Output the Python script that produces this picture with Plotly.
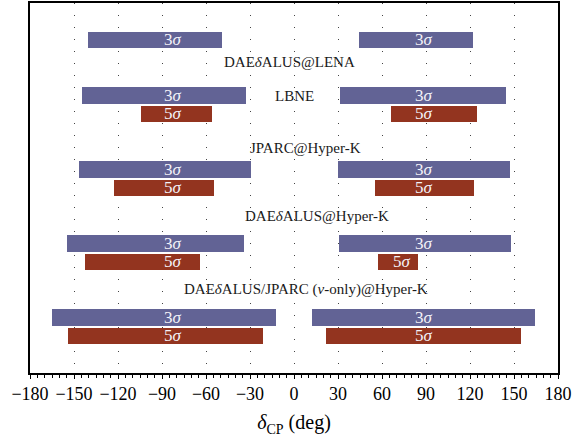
import plotly.graph_objs as go

# bar rows (y position), 3 sigma and 5 sigma intervals in deg
rows_3s = [18, 15, 11, 7, 3]
left_3s = [(-140.5, -49.0), (-144.5, -32.7), (-146.6, -29.3), (-154.8, -34.1), (-165.0, -12.3)]
right_3s = [(44.3, 122.0), (31.4, 144.5), (30.0, 147.3), (30.7, 148.0), (12.3, 164.3)]

rows_5s = [14, 10, 6, 2]
left_5s = [(-104.3, -55.9), (-122.7, -54.5), (-142.5, -64.1), (-154.0, -21.1)]
right_5s = [(66.1, 124.8), (55.2, 122.7), (57.3, 84.5), (21.8, 154.8)]

# experiment labels: (text, x, y)
labels = [
    ("DAE<i>δ</i>ALUS@LENA", -3, 16.8),
    ("LBNE", 0, 15.0),
    ("JPARC@Hyper-K", 7.5, 12.15),
    ("DAE<i>δ</i>ALUS@Hyper-K", 15.5, 8.5),
    ("DAE<i>δ</i>ALUS/JPARC (<i>ν</i>-only)@Hyper-K", 8, 4.5),
]

# where the sigma text sits inside the bars (left, right) per row
text_x_3s = [(-82.5, 88.5)] * 5
text_x_5s = [(-82.5, 88.5), (-82.5, 88.5), (-82.5, 73.4), (-82.5, 88.5)]

x_ticks = list(range(-180, 181, 30))

blue = '#626395'
red = '#93341f'
serif = 'Liberation Serif'

fig = go.Figure()


def add_bars(rows, left, right, color):
    ys = rows + rows
    spans = left + right
    fig.add_trace(go.Bar(
        orientation='h',
        y=ys,
        base=[s[0] for s in spans],
        x=[s[1] - s[0] for s in spans],
        width=0.9,
        marker=dict(color=color, line=dict(width=0)),
        showlegend=False,
        hoverinfo='skip',
    ))


add_bars(rows_3s, left_3s, right_3s, blue)
add_bars(rows_5s, left_5s, right_5s, red)

annotations = []
for rows, xs, txt in [(rows_3s, text_x_3s, '3<i>σ</i>'), (rows_5s, text_x_5s, '5<i>σ</i>')]:
    for y, pair in zip(rows, xs):
        for x in pair:
            annotations.append(dict(
                x=x, y=y, text=txt, showarrow=False,
                font=dict(family=serif, size=17, color='#f4f2f8'),
                xref='x', yref='y', yshift=1, height=16, valign='middle',
            ))

for txt, x, y in labels:
    annotations.append(dict(
        x=x, y=y, text=txt, showarrow=False,
        font=dict(family=serif, size=15, color='#1a1a1a'),
        xref='x', yref='y',
    ))

fig.update_layout(
    width=572, height=443,
    margin=dict(l=30, r=14, t=3, b=70, autoexpand=False),
    plot_bgcolor='white',
    paper_bgcolor='white',
    barmode='overlay',
    bargap=0,
    annotations=annotations,
    xaxis=dict(
        range=[-180, 180],
        tickvals=x_ticks,
        ticks='outside', ticklen=4, tickwidth=1, tickcolor='black',
        minor=dict(dtick=5, ticks='outside', ticklen=3, tickcolor='black', showgrid=False),
        showgrid=True, gridcolor='#444', gridwidth=1, griddash='1px,11px',
        zeroline=False,
        showline=True, linecolor='black', linewidth=1.6, mirror=True,
        tickfont=dict(family=serif, size=18, color='black'),
        title=dict(text='<i>δ</i><sub>CP</sub> (deg)',
                   font=dict(family=serif, size=20, color='black'),
                   standoff=12),
    ),
    yaxis=dict(
        range=[0, 20],
        showticklabels=False,
        ticks='',
        showgrid=False,
        zeroline=False,
        showline=True, linecolor='black', linewidth=1.6, mirror=True,
    ),
)

# drop the default page margin so the figure fills the window
fig.write_html("out.html", config={'displayModeBar': False},
               post_script="document.body.style.margin='0';")
